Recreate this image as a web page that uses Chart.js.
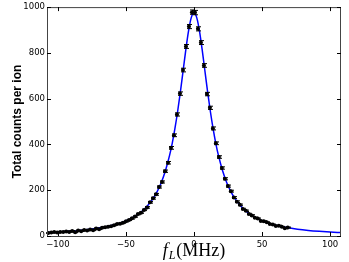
<!DOCTYPE html>
<html>
<head>
<meta charset="utf-8">
<script src="https://cdn.jsdelivr.net/npm/chart.js@4.4.0/dist/chart.umd.min.js"></script>
<style>
html, body { margin: 0; padding: 0; background: #fff; }
</style>
</head>
<body>
<canvas id="myChart" width="349" height="262"></canvas>
<script>
// measured points (MHz, counts, error)
const freqs = [
    -107.1, -104.9, -102.7, -100.5, -98.3, -96.1, -93.9, -91.7, -89.5, -87.3,
    -85.1, -82.9, -80.7, -78.5, -76.3, -74.1, -71.9, -69.7, -67.5, -65.3,
    -63.1, -60.9, -58.7, -56.5, -54.3, -52.1, -49.9, -47.7, -45.5, -43.3,
    -41.1, -38.9, -36.7, -34.5, -32.3, -30.1, -27.9, -25.7, -23.5, -21.3,
    -19.1, -16.9, -14.7, -12.5, -10.3, -8.1, -5.9, -3.7, -1.5, 0.7,
    2.9, 5.1, 7.3, 9.5, 11.7, 13.9, 16.1, 18.3, 20.5, 22.7,
    24.9, 27.1, 29.3, 31.5, 33.7, 35.9, 38.1, 40.3, 42.5, 44.7,
    46.9, 49.1, 51.3, 53.5, 55.7, 57.9, 60.1, 62.3, 64.5, 66.7, 68.9
];
const counts = [
    13, 15, 17, 15, 18, 17, 20, 18, 22, 16,
    24, 21, 26, 24, 28, 25, 33, 30, 36, 38,
    40, 43, 47, 52, 54, 58, 64, 70, 77, 85,
    96, 102, 114, 125, 147, 165, 182, 214, 236, 283,
    320, 385, 440, 531, 622, 725, 828, 915, 978, 976,
    905, 845, 745, 620, 560, 470, 405, 345, 297, 250,
    218, 196, 168, 150, 136, 118, 110, 96, 90, 80,
    76, 66, 64, 60, 52, 50, 44, 45, 40, 34, 37
];
const errs = [
    1.5, 1.5, 1.5, 1.5, 1.5, 1.5, 1.5, 1.5, 1.5, 1.5,
    1.5, 1.5, 1.5, 1.5, 1.5, 1.5, 2, 2, 2, 2,
    2, 2, 2, 2, 2, 2.5, 2.5, 2.5, 3, 3,
    3, 3, 3, 3.5, 3.5, 4, 4, 4.5, 4.5, 5,
    5.5, 6, 6, 7, 7.5, 8, 8.5, 9, 9.5, 9.5,
    9, 8.5, 8, 7.5, 7, 6.5, 6, 5.5, 5, 4.5,
    4.5, 4, 4, 3.5, 3.5, 3, 3, 3, 3, 2.5,
    2.5, 2.5, 2.5, 2, 2, 2, 2, 2, 2, 2, 2
];

// fitted Lorentzian curve
const fitFreqs = [
    -108, -100, -92, -84, -76, -68, -60, -54, -48, -42, -38, -34, -30, -27, -24, -21,
    -18, -16, -14, -12, -10, -8, -6, -4, -2, 0, 2, 4, 6, 8, 10, 12, 14, 16, 18,
    21, 24, 27, 30, 34, 38, 42, 48, 54, 60, 68, 76, 84, 92, 100, 108
];
const fitCounts = [
    15.0, 17.5, 20.6, 24.5, 29.8, 37.0, 47.0, 57.4, 71.5, 91.3, 109, 133, 164, 195, 234, 285,
    351, 405, 470, 545, 630, 722, 814, 896, 954, 975, 954, 896, 814, 722, 630, 545, 470, 405, 351,
    285, 234, 195, 164, 133, 109, 91.3, 71.5, 57.4, 47.0, 37.0, 29.8, 24.5, 20.6, 17.5, 15.0
];

const xTicks = [-100, -50, 0, 50, 100];
const yTicks = [0, 200, 400, 600, 800, 1000];

const pointData = freqs.map((f, i) => ({ x: f, y: counts[i] }));
const fitData = fitFreqs.map((f, i) => ({ x: f, y: fitCounts[i] }));

const errorBars = {
    id: "errorBars",
    afterDatasetsDraw(chart) {
        const { ctx, scales } = chart;
        ctx.save();
        ctx.strokeStyle = "#000";
        ctx.lineWidth = 1;
        freqs.forEach((f, i) => {
            const px = Math.round(scales.x.getPixelForValue(f)) + 0.5;
            const lo = scales.y.getPixelForValue(counts[i] - errs[i]);
            const hi = scales.y.getPixelForValue(counts[i] + errs[i]);
            ctx.beginPath();
            ctx.moveTo(px, lo);
            ctx.lineTo(px, hi);
            ctx.moveTo(px - 2.5, lo);
            ctx.lineTo(px + 2.5, lo);
            ctx.moveTo(px - 2.5, hi);
            ctx.lineTo(px + 2.5, hi);
            ctx.stroke();
        });
        ctx.restore();
    },
};

const frameAndLabels = {
    id: "frameAndLabels",
    afterDraw(chart) {
        const { ctx, chartArea: a, scales } = chart;
        ctx.save();
        // frame
        ctx.strokeStyle = "#444";
        ctx.lineWidth = 1;
        ctx.strokeRect(a.left + 0.5, a.top + 0.5, a.right - a.left - 1, a.bottom - a.top);
        // inward ticks on all four sides
        ctx.strokeStyle = "#000";
        ctx.beginPath();
        xTicks.forEach((v) => {
            const px = Math.round(scales.x.getPixelForValue(v)) + 0.5;
            ctx.moveTo(px, a.bottom);
            ctx.lineTo(px, a.bottom - 4);
            ctx.moveTo(px, a.top);
            ctx.lineTo(px, a.top + 4);
        });
        yTicks.forEach((v) => {
            const py = Math.round(scales.y.getPixelForValue(v)) + 0.5;
            ctx.moveTo(a.left, py);
            ctx.lineTo(a.left + 4, py);
            ctx.moveTo(a.right, py);
            ctx.lineTo(a.right - 4, py);
        });
        ctx.stroke();

        // y axis title
        ctx.fillStyle = "#000";
        ctx.font = "bold 12px 'Liberation Sans', Arial, sans-serif";
        ctx.textAlign = "center";
        ctx.textBaseline = "middle";
        ctx.translate(18, (a.top + a.bottom) / 2);
        ctx.rotate(-Math.PI / 2);
        ctx.fillText("Total counts per ion", 0, 0);
        ctx.setTransform(1, 0, 0, 1, 0, 0);

        // x axis title: f_L (MHz)
        const fItalic = "italic 18px 'Liberation Serif', 'DejaVu Serif', serif";
        const fSub = "italic 12px 'Liberation Serif', 'DejaVu Serif', serif";
        const fRoman = "18px 'Liberation Serif', 'DejaVu Serif', serif";
        ctx.textAlign = "left";
        ctx.textBaseline = "alphabetic";
        ctx.font = fItalic;
        const w1 = ctx.measureText("f").width + 1;
        ctx.font = fSub;
        const w2 = ctx.measureText("L").width + 1;
        ctx.font = fRoman;
        const w3 = ctx.measureText("(MHz)").width;
        let x0 = (a.left + a.right) / 2 - (w1 + w2 + w3) / 2;
        const base = 256;
        ctx.font = fItalic;
        ctx.fillText("f", x0, base);
        ctx.font = fSub;
        ctx.fillText("L", x0 + w1, base + 3);
        ctx.font = fRoman;
        ctx.fillText("(MHz)", x0 + w1 + w2, base);
        ctx.restore();
    },
};

const ctx = document.getElementById("myChart").getContext("2d");

const myChart = new Chart(ctx, {
    type: "scatter",
    data: {
        datasets: [
            {
                label: "data",
                data: pointData,
                backgroundColor: "#000",
                borderColor: "#000",
                pointRadius: 2,
                pointBorderWidth: 0,
                showLine: false,
            },
            {
                label: "fit",
                data: fitData,
                borderColor: "#0000ff",
                borderWidth: 1.5,
                pointRadius: 0,
                showLine: true,
                cubicInterpolationMode: "monotone",
            },
        ],
    },
    plugins: [errorBars, frameAndLabels],
    options: {
        responsive: false,
        animation: false,
        events: [],
        layout: { padding: { top: 7, right: 8, left: 0, bottom: 0 } },
        plugins: {
            legend: { display: false },
            tooltip: { enabled: false },
        },
        scales: {
            x: {
                type: "linear",
                min: -108,
                max: 108,
                afterBuildTicks: (scale) => {
                    scale.ticks = xTicks.map((v) => ({ value: v }));
                },
                afterFit: (scale) => {
                    scale.height = 26;
                },
                grid: { display: false, drawTicks: false },
                border: { display: false },
                ticks: {
                    color: "#000",
                    padding: 4,
                    maxRotation: 0,
                    font: { family: "'DejaVu Sans', sans-serif", size: 8.5 },
                    callback: (v) => (v < 0 ? "\u2212" + Math.abs(v) : String(v)),
                },
            },
            y: {
                min: 0,
                max: 1000,
                afterBuildTicks: (scale) => {
                    scale.ticks = yTicks.map((v) => ({ value: v }));
                },
                afterFit: (scale) => {
                    scale.width = 47;
                },
                grid: { display: false, drawTicks: false },
                border: { display: false },
                ticks: {
                    color: "#000",
                    padding: 2,
                    font: { family: "'DejaVu Sans', sans-serif", size: 8.5 },
                    callback: (v) => String(v),
                },
            },
        },
    },
});
</script>
</body>
</html>
